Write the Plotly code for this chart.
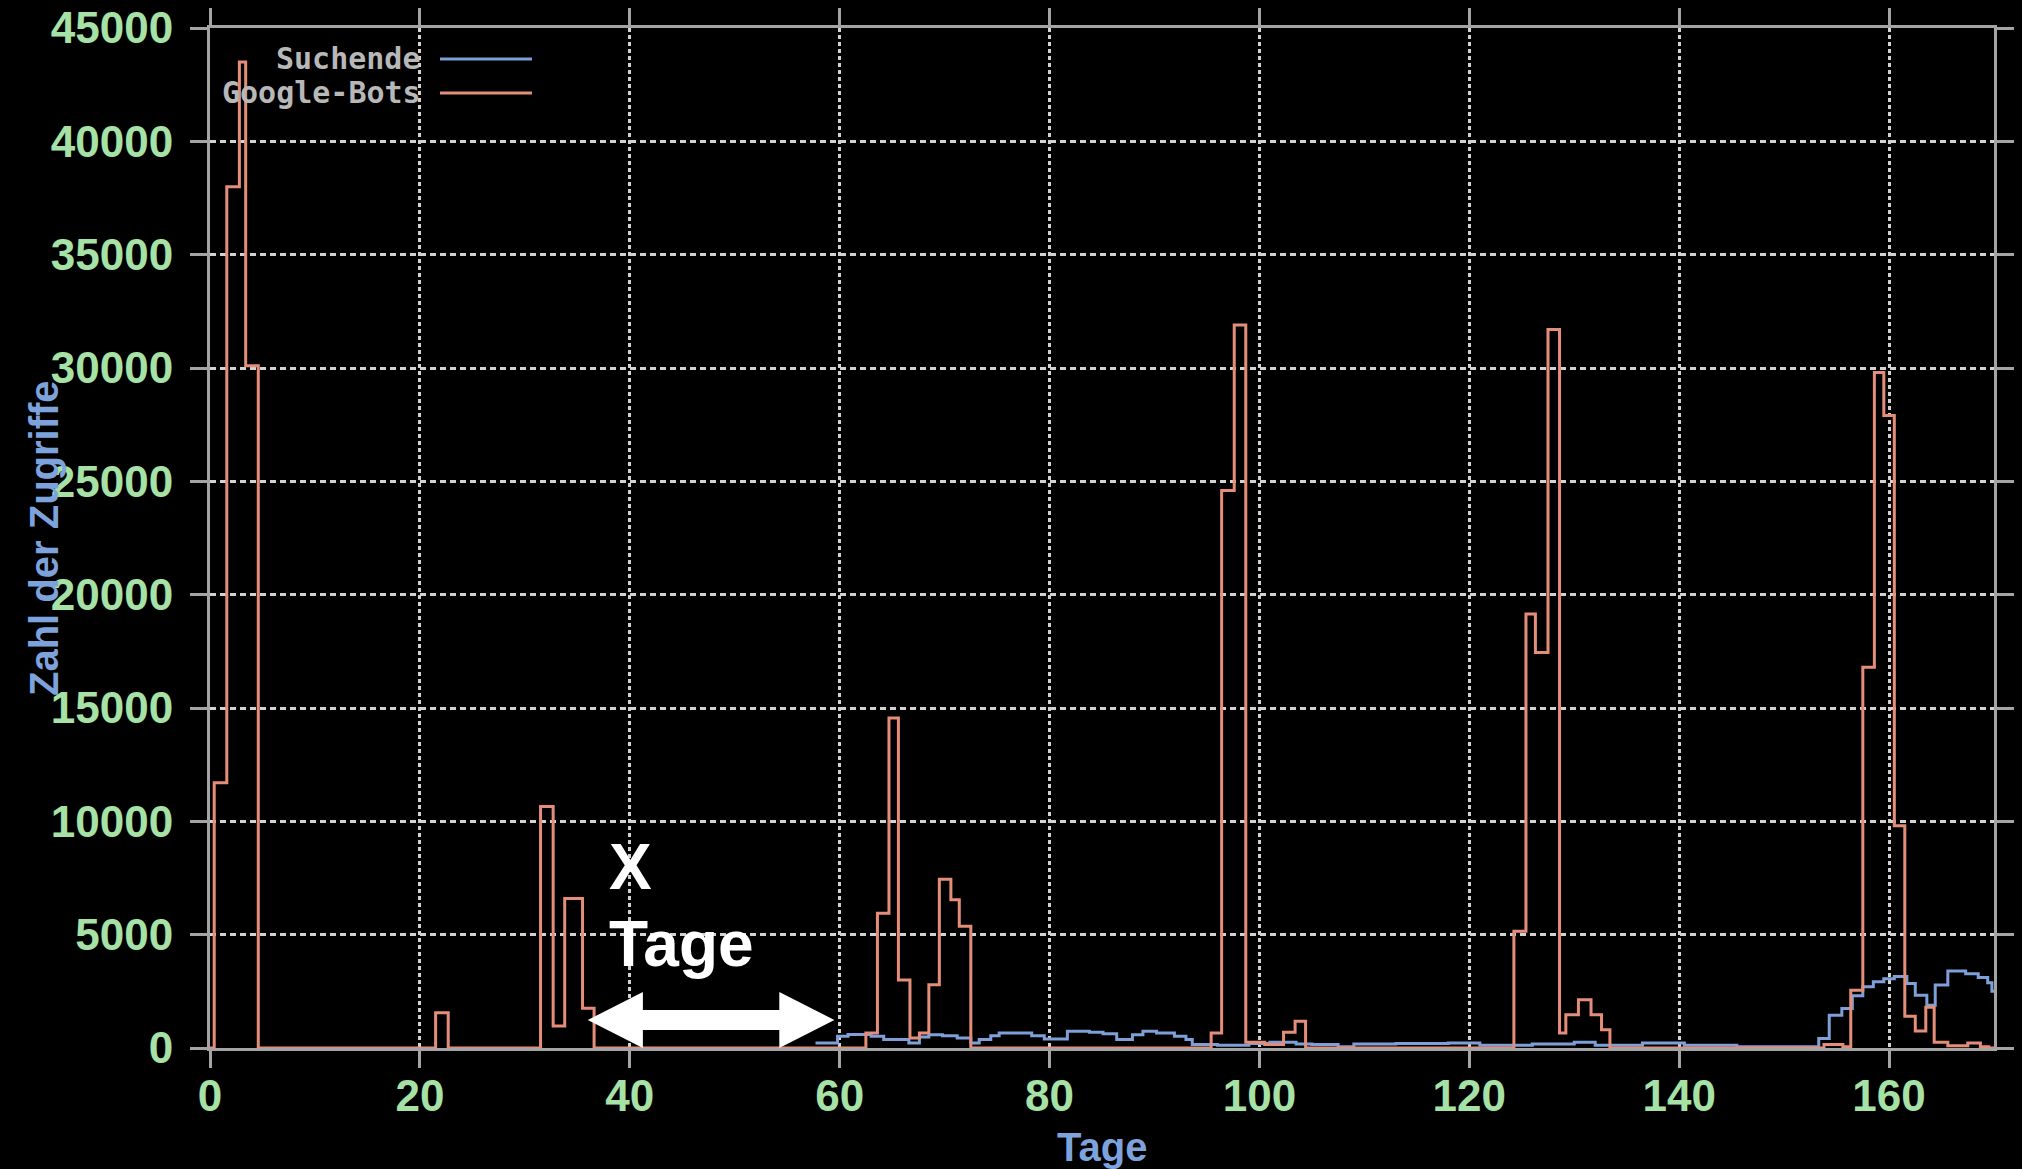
import plotly.graph_objects as go

# ---------------- data ----------------
x_tick_vals = [0, 20, 40, 60, 80, 100, 120, 140, 160]
y_tick_vals = [0, 5000, 10000, 15000, 20000, 25000, 30000, 35000, 40000, 45000]

series_names = ["Suchende", "Google-Bots"]

google_days = [0, 0.4, 1.6, 2.8, 3.4, 4.6,
               21.5, 22.7,
               31.5, 32.7, 33.8, 35.5, 36.6,
               62.5, 63.6, 64.7, 65.6, 66.7, 67.6, 68.5, 69.5, 70.6, 71.4, 72.5,
               95.4, 96.4, 97.6, 98.7, 100.5, 102.3, 103.4, 104.4,
               124.25, 125.4, 126.3, 127.5, 128.6, 129.2, 130.4, 131.6, 132.6, 133.4,
               153.8, 155.6, 156.35, 157.5, 158.6, 159.5, 160.5, 161.5, 162.5,
               163.5, 164.3, 165.6, 167.5, 168.7, 169.5, 170]
google_hits = [0, 11700, 38000, 43500, 30100, 0,
               1550, 0,
               10650, 970, 6600, 1750, 0,
               660, 5950, 14560, 3000, 440, 660, 2790, 7450, 6540, 5370, 0,
               660, 24600, 31900, 250, 150, 690, 1180, 0,
               5150, 19150, 17450, 31700, 660, 1470, 2130, 1470, 810, 0,
               150, 60, 2550, 16800, 29800, 27900, 9800, 1400, 750,
               1800, 250, 100, 220, 60, 0, 0]

suche_days = [57.7, 59.8, 60.8, 63.0, 64.2, 66.6, 67.6, 68.5, 69.8, 71.2, 72.5,
              73.3, 74.4, 75.2, 78.3, 79.5, 81.7, 83.8, 85.1, 86.4, 87.9, 88.9,
              90.2, 91.9, 93.0, 93.6, 96.0, 99.0, 101.0, 103.5, 105.0, 107.5,
              109.0, 113.0, 118.0, 121.0, 126.0, 130.0, 132.0, 136.5, 140.5,
              145.5, 153.3, 154.3, 155.5, 156.5, 157.5, 158.5, 159.5, 160.5,
              161.7, 162.5, 163.6, 164.4, 165.6, 167.3, 168.5, 169.4, 169.8, 170]
suche_hits = [220, 515, 600, 520, 370, 220, 480, 590, 540, 440, 220,
              370, 540, 660, 545, 400, 735, 700, 630, 370, 590, 735,
              660, 515, 370, 150, 120, 200, 250, 180, 150, 60,
              180, 200, 220, 120, 180, 250, 120, 220, 120,
              60, 420, 1450, 1740, 2300, 2700, 2920, 3050, 3150,
              2850, 2330, 1890, 2780, 3400, 3280, 3110, 2880, 2500, 2500]

# arrow annotation ("X Tage") extent, in axis units
arrow_from, arrow_to = 36.0, 59.5

# ---------------- styling ----------------
BG = "#000000"
BORDER = "#a4a4a4"
GRID = "#d2d2d2"
LABEL_GREEN = "#a6e2a6"
TITLE_BLUE = "#7ea3dc"
C_SUCHE = "#7e9fd8"
C_GOOGLE = "#e48e7a"
TICK_FONT = dict(family="Liberation Sans, Arial, sans-serif", size=44,
                 color=LABEL_GREEN, weight="bold")

fig = go.Figure()
fig.add_trace(go.Scatter(x=suche_days, y=suche_hits, mode="lines", name=series_names[0],
                         line=dict(color=C_SUCHE, width=3, shape="hv"), showlegend=False))
fig.add_trace(go.Scatter(x=google_days, y=google_hits, mode="lines", name=series_names[1],
                         line=dict(color=C_GOOGLE, width=3, shape="hv"), showlegend=False))

axis_common = dict(showline=True, linecolor=BORDER, linewidth=3, mirror="ticks",
                   ticks="outside", ticklen=17, tickwidth=3, tickcolor=BORDER,
                   showgrid=True, gridcolor=GRID, gridwidth=2.5, zeroline=False,
                   tickfont=TICK_FONT, layer="above traces", automargin=False)

fig.update_xaxes(range=[0, 170], tickmode="array", tickvals=x_tick_vals,
                 ticktext=[str(v) for v in x_tick_vals], griddash="4px,3px",
                 ticklabelstandoff=-10, **axis_common)
fig.update_yaxes(range=[0, 45000], tickmode="array", tickvals=y_tick_vals,
                 ticktext=[str(v) for v in y_tick_vals], griddash="6px,4px",
                 ticklabelstandoff=8, **axis_common)

def px_to_y(py):
    # helper for annotation placement: page pixel row -> axis value
    return (1048 - py) * 45000.0 / 1020.0

annotations = [
    dict(text="Zahl der Zugriffe", xref="paper", yref="paper", x=0, y=0.5,
         xshift=-166, textangle=-90, showarrow=False, xanchor="center", yanchor="middle",
         font=dict(family="Liberation Sans, Arial, sans-serif", size=40,
                   color=TITLE_BLUE, weight="bold")),
    dict(text="Tage", xref="paper", yref="paper", x=0.5, y=0, yshift=-99,
         showarrow=False, xanchor="center", yanchor="middle",
         font=dict(family="Liberation Sans, Arial, sans-serif", size=40,
                   color=TITLE_BLUE, weight="bold")),
    dict(text="X", xref="x", yref="y", x=37.85, y=px_to_y(867), showarrow=False,
         xanchor="left", yanchor="middle",
         font=dict(family="Liberation Sans, Arial, sans-serif", size=64,
                   color="#ffffff", weight="bold")),
    dict(text="Tage", xref="x", yref="y", x=37.85, y=px_to_y(944), showarrow=False,
         xanchor="left", yanchor="middle",
         font=dict(family="Liberation Sans, Arial, sans-serif", size=64,
                   color="#ffffff", weight="bold")),
]
# custom legend (text left, sample line right, like the original)
legend_rows = [(series_names[0], C_SUCHE, -30), (series_names[1], C_GOOGLE, -64)]
shapes = []
for name, col, dy in legend_rows:
    annotations.append(dict(text=name, xref="paper", yref="paper", x=0, y=1,
                            xshift=213, yshift=dy, showarrow=False,
                            xanchor="right", yanchor="middle",
                            font=dict(family="DejaVu Sans Mono, Liberation Mono, monospace",
                                      size=30, color="#b8b8b8", weight="bold")))
    yp = 1 + (dy - 1) / 1020.0
    shapes.append(dict(type="line", xref="paper", yref="paper",
                       x0=(440 - 210) / 1784.0, x1=(532 - 210) / 1784.0, y0=yp, y1=yp,
                       line=dict(color=col, width=3)))

# double-headed white arrow (annotation graphic)
mid = 1235
head_half = 1235
shaft_half = 441
head_len = 5.25
xa, xb = arrow_from, arrow_to
path = (f"M {xa},{mid} L {xa + head_len},{mid + head_half} L {xa + head_len},{mid + shaft_half} "
        f"L {xb - head_len},{mid + shaft_half} L {xb - head_len},{mid + head_half} L {xb},{mid} "
        f"L {xb - head_len},{mid - head_half} L {xb - head_len},{mid - shaft_half} "
        f"L {xa + head_len},{mid - shaft_half} L {xa + head_len},{mid - head_half} Z")
shapes.append(dict(type="path", xref="x", yref="y", path=path,
                   fillcolor="#ffffff", line=dict(color="#ffffff", width=0), layer="above"))

fig.update_layout(width=2022, height=1169, autosize=False,
                  margin=dict(l=210, r=28, t=28, b=121),
                  paper_bgcolor=BG, plot_bgcolor=BG,
                  annotations=annotations, shapes=shapes, showlegend=False)

fig.write_html("out.html", config={"displayModeBar": False},
               post_script="document.body.style.margin='0';"
                           "document.body.style.background='#000';"
                           "document.body.style.overflow='hidden';")
